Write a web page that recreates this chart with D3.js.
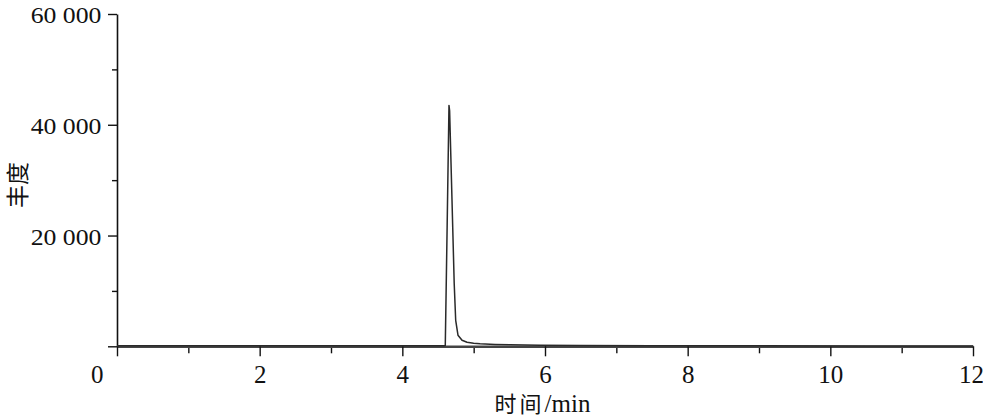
<!DOCTYPE html>
<html>
<head>
<meta charset="utf-8">
<script src="https://cdn.jsdelivr.net/npm/d3@7"></script>
<style>
  html, body { margin: 0; padding: 0; background: #fff; }
  svg { display: block; }
</style>
</head>
<body>
<svg id="chart" width="983" height="417"></svg>
<script>
// ---- data ----
const times = [0, 4.58, 4.602, 4.628, 4.654, 4.663, 4.695, 4.727, 4.748, 4.78, 4.837, 4.907, 5.0, 5.09, 5.3, 5.51, 5.93, 6.5, 7.5, 9, 10.5, 12];
const abundance = [80, 80, 150, 21500, 43500, 42500, 27000, 11400, 4700, 2000, 1080, 720, 560, 450, 340, 270, 180, 130, 100, 80, 70, 60];
const xMajorTicks = [0, 2, 4, 6, 8, 10, 12];
const xMinorTicks = [1, 3, 5, 7, 9, 11];
const xTickLabels = ["0", "2", "4", "6", "8", "10", "12"];
const yMajorTicks = [0, 20000, 40000, 60000];
const yMinorTicks = [10000, 30000, 50000];
const yTickLabels = ["", "20 000", "40 000", "60 000"];
const xTitleCJK = "时间";
const xTitleUnit = "/min";
const yTitle = "丰度";

// ---- layout ----
const svg = d3.select("#chart");
const x0 = 117, x1 = 973, yTop = 14, yBase = 346.3;
const x = d3.scaleLinear().domain([0, 12]).range([x0, x1]);
const y = d3.scaleLinear().domain([0, 60000]).range([yBase, yTop]);
const serif = '"Liberation Serif", "Times New Roman", "Noto Sans CJK SC", serif';

// x axis minor ticks
svg.append("g")
  .attr("transform", `translate(0,${yBase})`)
  .call(d3.axisBottom(x).tickValues(xMinorTicks).tickSize(7).tickFormat(""))
  .call(g => g.select(".domain").remove())
  .call(g => g.selectAll(".tick line").attr("stroke", "#111").attr("stroke-width", 1.4));

// x axis major
const gx = svg.append("g")
  .attr("transform", `translate(0,${yBase})`)
  .call(d3.axisBottom(x).tickValues(xMajorTicks).tickSize(10).tickSizeOuter(0)
        .tickFormat((d, i) => xTickLabels[i]));
gx.attr("font-family", null).attr("font-size", null);
gx.select(".domain").attr("stroke", "#444").attr("stroke-width", 2.6);
gx.selectAll(".tick line").attr("stroke", "#111").attr("stroke-width", 1.4);
gx.selectAll(".tick text")
  .style("font-family", serif).style("font-size", "25px").attr("fill", "#111")
  .attr("y", 36.7).attr("dy", 0)
  .attr("x", d => d === 0 ? -20.3 : (d === 12 ? -2 : 0));

// y axis minor
svg.append("g")
  .attr("transform", `translate(${x0},0)`)
  .call(d3.axisLeft(y).tickValues(yMinorTicks).tickSize(5).tickFormat(""))
  .call(g => g.select(".domain").remove())
  .call(g => g.selectAll(".tick line").attr("stroke", "#111").attr("stroke-width", 1.4));

// y axis major
const gy = svg.append("g")
  .attr("transform", `translate(${x0},0)`)
  .call(d3.axisLeft(y).tickValues(yMajorTicks).tickSize(9).tickSizeOuter(0)
        .tickFormat((d, i) => yTickLabels[i]));
gy.attr("font-family", null).attr("font-size", null);
gy.select(".domain").attr("stroke", "#111").attr("stroke-width", 1.6);
gy.selectAll(".tick line").attr("stroke", "#111").attr("stroke-width", 1.4);
gy.selectAll(".tick text")
  .style("font-family", serif).style("font-size", "23px").attr("fill", "#111")
  .attr("x", 0).attr("dy", "0.37em")
  .attr("transform", "translate(-15.5,0) scale(1.12,1)");

// data line
const line = d3.line().x((d, i) => x(times[i])).y(d => y(d));
svg.append("path")
  .datum(abundance)
  .attr("fill", "none")
  .attr("stroke", "#2a2a2a")
  .attr("stroke-width", 1.5)
  .attr("stroke-linejoin", "round")
  .attr("d", line);

// axis titles
const xt = svg.append("text")
  .attr("x", (x0 + x1) / 2 - 2.5).attr("y", 411.5)
  .attr("text-anchor", "middle")
  .attr("fill", "#111");
xt.append("tspan").style("font-family", '"Noto Sans CJK SC", sans-serif')
  .style("font-size", "22px").attr("letter-spacing", 3).text(xTitleCJK);
xt.append("tspan").style("font-family", serif).style("font-size", "25px").text(xTitleUnit);

svg.append("text")
  .attr("transform", "translate(16,185) rotate(-90)")
  .attr("text-anchor", "middle")
  .attr("dominant-baseline", "central")
  .style("font-family", '"Noto Sans CJK SC", sans-serif')
  .style("font-size", "23px")
  .attr("fill", "#111")
  .text(yTitle);
</script>
</body>
</html>
